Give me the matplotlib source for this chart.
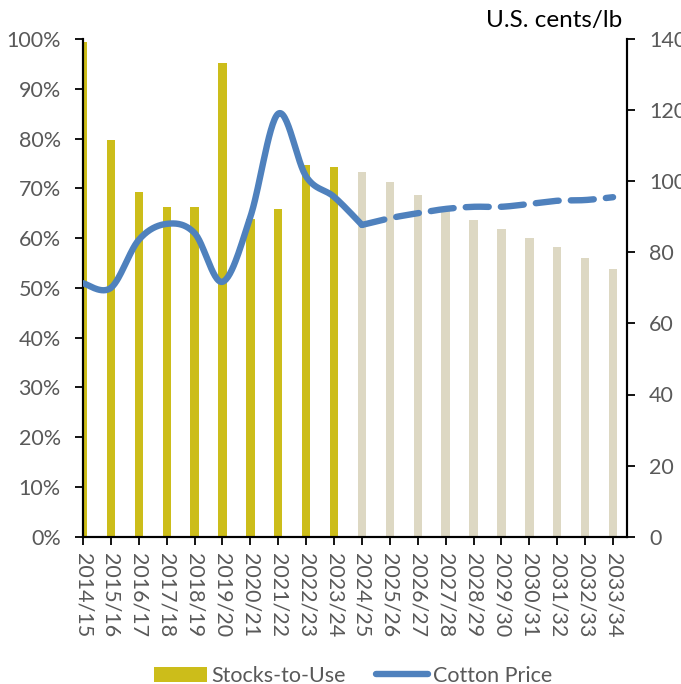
import numpy as np
import matplotlib
matplotlib.use("Agg")
import matplotlib.pyplot as plt
from matplotlib.lines import Line2D
from matplotlib.patches import Patch

years = ["2014/15", "2015/16", "2016/17", "2017/18", "2018/19", "2019/20", "2020/21",
         "2021/22", "2022/23", "2023/24", "2024/25", "2025/26", "2026/27", "2027/28",
         "2028/29", "2029/30", "2030/31", "2031/32", "2032/33", "2033/34"]
stocks_to_use = [99.3, 79.8, 69.3, 66.2, 66.3, 95.2, 63.8, 65.8, 74.7, 74.3,
                 73.3, 71.3, 68.7, 65.9, 63.6, 61.8, 60.0, 58.2, 56.0, 53.8]
cotton_price = [71.3, 70.0, 83.5, 88.0, 85.4, 71.7, 90.0, 119.0, 101.3, 95.6,
                87.7, 89.6, 91.0, 92.2, 92.8, 92.8, 93.6, 94.5, 94.7, 95.5]
n_hist = 10  # first projected year index (2024/25)

plt.rcParams['font.family'] = ['Lato', 'DejaVu Sans']

fig = plt.figure(figsize=(6.81, 6.84), dpi=100)
ax = fig.add_axes([83/681, 1-536.7/684, (627-83)/681, (536.7-39)/684])
ax2 = ax.twinx()

x = np.arange(len(years))
col_hist = "#CCBD1A"
col_proj = "#DDD8C3"
colors = [col_hist if i < n_hist else col_proj for i in range(len(years))]
ax.bar(x, stocks_to_use, width=0.3, color=colors, zorder=2)
ax.set_ylim(0, 100)
ax.set_xlim(0, 19.5)
ax.set_yticks(np.arange(0, 101, 10))
ax.set_yticklabels([f"{v}%" for v in range(0, 101, 10)])
ax.set_xticks(x)
ax.set_xticklabels(years, rotation=-90)

def catmull(xs, ys, n=30):
    xs = np.asarray(xs, float); ys = np.asarray(ys, float)
    px, py = [], []
    m = len(xs)
    for i in range(m - 1):
        x0, y0 = (xs[i-1], ys[i-1]) if i > 0 else (xs[i], ys[i])
        x1, y1 = xs[i], ys[i]
        x2, y2 = xs[i+1], ys[i+1]
        x3, y3 = (xs[i+2], ys[i+2]) if i + 2 < m else (xs[i+1], ys[i+1])
        c1x, c1y = x1 + (x2 - x0)/6, y1 + (y2 - y0)/6
        c2x, c2y = x2 - (x3 - x1)/6, y2 - (y3 - y1)/6
        t = np.linspace(0, 1, n, endpoint=(i == m - 2))
        b0 = (1-t)**3; b1 = 3*(1-t)**2*t; b2 = 3*(1-t)*t**2; b3 = t**3
        px.append(b0*x1 + b1*c1x + b2*c2x + b3*x2)
        py.append(b0*y1 + b1*c1y + b2*c2y + b3*y2)
    return np.concatenate(px), np.concatenate(py)

line_col = "#4F81BD"
sx, sy = catmull(x[:n_hist+1], cotton_price[:n_hist+1])
ax2.plot(sx, sy, color=line_col, lw=4.6, solid_capstyle='round', zorder=3)
dx, dy = catmull(x[n_hist:], cotton_price[n_hist:])
ax2.plot(dx, dy, color=line_col, lw=4.6, dashes=(3.6, 1.9), dash_capstyle='round', zorder=3)
ax2.set_ylim(0, 140)
ax2.set_yticks(np.arange(0, 141, 20))

tick_col = "#595959"
fs = 15.5
for a in (ax, ax2):
    for s in a.spines.values():
        s.set_color("black")
        s.set_linewidth(1.5)
    a.spines['top'].set_visible(False)
    a.tick_params(colors=tick_col, labelsize=fs, length=6, width=1.3)
    a.tick_params(axis='both', color='black')
ax.tick_params(axis='y', pad=10)
ax2.tick_params(axis='y', pad=10)
ax.tick_params(axis='x', pad=6)

fig.text(622/681, 1-20/684, "U.S. cents/lb", ha='right', va='center', fontsize=17.5, color='black')

handles = [Patch(facecolor=col_hist, edgecolor='none'),
           Line2D([0], [0], color=line_col, lw=4.6, solid_capstyle='round')]
fig.legend(handles, ["Stocks-to-Use", "Cotton Price"], loc='center', bbox_to_anchor=(353/681, 1-676/684),
           ncol=2, frameon=False, fontsize=fs, labelcolor=tick_col, handlelength=2.45,
           handletextpad=0.2, columnspacing=1.4, handleheight=0.7)

fig.savefig("out.png", dpi=100)
